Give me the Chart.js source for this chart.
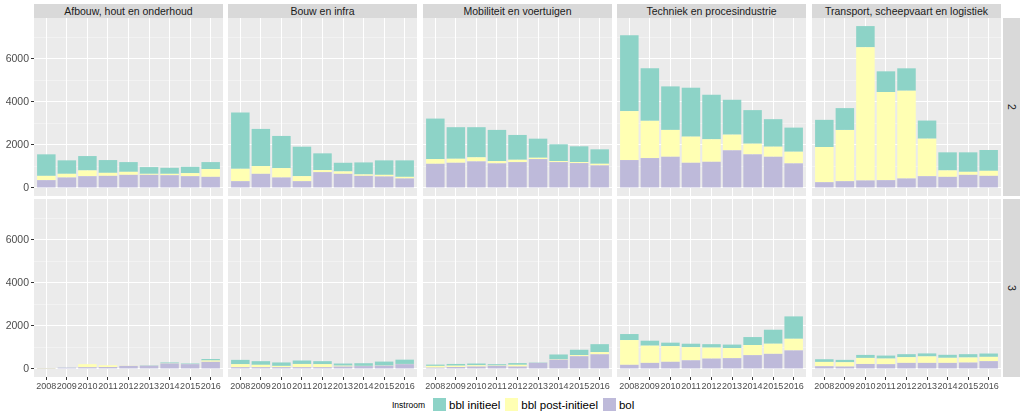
<!DOCTYPE html>
<html>
<head>
<meta charset="utf-8">
<script src="https://cdn.jsdelivr.net/npm/chart.js@4.4.1/dist/chart.umd.min.js"></script>
<style>
  body { margin: 0; background: #fff; font-family: "Liberation Sans", Arial, sans-serif; }
  #wrap { position: relative; width: 1024px; height: 420px; overflow: hidden; }
  .box { position: absolute; }
  .strip { position: absolute; background: #d9d9d9; color: #1a1a1a; font-size: 10.5px; text-align: center; line-height: 14px; white-space: nowrap; }
  .rstrip { position: absolute; background: #d9d9d9; color: #1a1a1a; font-size: 10.5px; }
  .rstrip span { position: absolute; left: 50%; top: 50%; transform: translate(-50%, -50%) rotate(90deg); }
  #legend { position: absolute; left: 392px; top: 398px; display: flex; align-items: center; font-size: 11.5px; color: #000; }
  #legend .title { font-size: 8.5px; margin-right: 8px; }
  #legend .key { width: 13px; height: 13px; margin-right: 3px; }
  #legend .lab { margin-right: 5px; }
</style>
</head>
<body>
<div id="wrap"></div>
<script>
const years = [2008, 2009, 2010, 2011, 2012, 2013, 2014, 2015, 2016];
const sectors = [
  "Afbouw, hout en onderhoud",
  "Bouw en infra",
  "Mobiliteit en voertuigen",
  "Techniek en procesindustrie",
  "Transport, scheepvaart en logistiek",
];
const levels = ["2", "3"];
const yTickLabels = [0, 2000, 4000, 6000];
const yMinorLines = [1000, 3000, 5000, 7000];

// niveau 2, one row per sector
const bol2 = [
  [360, 485, 546, 560, 607, 607, 590, 546, 514],
  [313, 654, 485, 313, 733, 654, 560, 532, 439],
  [1121, 1168, 1233, 1140, 1200, 1340, 1200, 1153, 1046],
  [1294, 1387, 1448, 1168, 1214, 1747, 1560, 1448, 1140],
  [266, 313, 346, 360, 439, 546, 514, 607, 560],
];
const post2 = [
  [200, 170, 266, 140, 140, 47, 64, 140, 359],
  [574, 359, 435, 233, 94, 112, 66, 75, 75],
  [219, 186, 187, 107, 108, 61, 47, 47, 75],
  [2274, 1728, 1247, 1214, 1046, 728, 495, 467, 541],
  [1635, 2382, 6192, 4095, 4077, 1742, 298, 140, 234],
];
const init2 = [
  [1000, 626, 668, 594, 453, 313, 280, 294, 327],
  [2616, 1728, 1494, 1369, 779, 402, 558, 673, 766],
  [1882, 1467, 1401, 1448, 1153, 887, 780, 733, 672],
  [3530, 2442, 2022, 2274, 2069, 1621, 1560, 1279, 1121],
  [1261, 1013, 981, 962, 1041, 841, 841, 906, 967],
];

// niveau 3
const bol3 = [
  [5, 60, 80, 90, 140, 150, 250, 220, 330],
  [80, 80, 80, 80, 80, 110, 130, 150, 220],
  [60, 90, 110, 140, 110, 280, 430, 590, 680],
  [190, 280, 330, 400, 480, 500, 640, 700, 860],
  [125, 110, 230, 220, 280, 280, 280, 295, 360],
];
const post3 = [
  [25, 0, 140, 80, 10, 5, 10, 0, 60],
  [140, 110, 60, 150, 140, 40, 10, 10, 10],
  [80, 60, 60, 20, 80, 0, 20, 50, 100],
  [1150, 800, 730, 610, 510, 470, 470, 470, 540],
  [200, 200, 280, 260, 265, 300, 235, 235, 200],
];
const init3 = [
  [0, 5, 0, 0, 0, 15, 40, 30, 70],
  [200, 170, 160, 160, 140, 100, 125, 180, 200],
  [60, 80, 80, 60, 80, 15, 220, 250, 370],
  [280, 230, 160, 160, 160, 160, 370, 650, 1040],
  [125, 110, 140, 140, 140, 140, 140, 155, 155],
];

const bol = [bol2, bol3];
const post = [post2, post3];
const init = [init2, init3];

const colors = { init: "#8dd3c7", post: "#ffffb3", bol: "#bebada" };
const font = "'Liberation Sans', Arial, sans-serif";

// shared y range, ggplot style 5% expansion
let peak = 0;
for (let r = 0; r < 2; r++)
  for (let s = 0; s < sectors.length; s++)
    years.forEach((y, i) => { peak = Math.max(peak, bol[r][s][i] + post[r][s][i] + init[r][s][i]); });
const yMin = -peak * 0.05, yMax = peak * 1.05;

// layout
const colLeft = [34, 228, 423, 617, 812];
const panelW = 189, panelH = 178;
const rowTop = [18, 199];
const xAxisH = 16;

const wrap = document.getElementById("wrap");

const panelBg = {
  id: "panelBg",
  beforeDraw(chart) {
    const { ctx, chartArea: a } = chart;
    ctx.save();
    ctx.fillStyle = "#ebebeb";
    ctx.fillRect(a.left, a.top, a.right - a.left, a.bottom - a.top);
    ctx.restore();
  },
};

// fixed axis sizes, no label overflow padding so every panel lines up
function fixSize(sc, w, h) {
  if (w !== null) sc.width = w;
  if (h !== null) sc.height = h;
  sc.paddingTop = sc.paddingBottom = sc.paddingLeft = sc.paddingRight = 0;
}

function makePanel(r, c) {
  const first = c === 0, bottom = r === 1;
  const box = document.createElement("div");
  box.className = "box";
  box.style.left = (first ? 0 : colLeft[c]) + "px";
  box.style.top = rowTop[r] + "px";
  box.style.width = (first ? colLeft[0] + panelW : panelW) + "px";
  box.style.height = (panelH + (bottom ? xAxisH : 0)) + "px";
  const canvas = document.createElement("canvas");
  box.appendChild(canvas);
  wrap.appendChild(box);

  const isMajor = (v) => yTickLabels.includes(v);

  new Chart(canvas, {
    type: "bar",
    data: {
      labels: years,
      datasets: [
        { label: "bol", data: bol[r][c], backgroundColor: colors.bol },
        { label: "bbl post-initieel", data: post[r][c], backgroundColor: colors.post },
        { label: "bbl initieel", data: init[r][c], backgroundColor: colors.init },
      ],
    },
    options: {
      responsive: true,
      maintainAspectRatio: false,
      animation: false,
      layout: { padding: 0, autoPadding: false },
      datasets: { bar: { categoryPercentage: 1, barPercentage: 0.9, borderWidth: 0 } },
      plugins: { legend: { display: false }, tooltip: { enabled: false } },
      scales: {
        x: {
          type: "linear",
          stacked: true,
          offset: false,
          min: years[0] - 0.6,
          max: years[years.length - 1] + 0.6,
          afterBuildTicks: (sc) => { sc.ticks = years.map((v) => ({ value: v })); },
          afterFit: (sc) => fixSize(sc, null, bottom ? xAxisH : 0),
          grid: { offset: false, color: "#ffffff", lineWidth: 1, drawTicks: bottom, tickLength: 3, tickColor: "#333333" },
          border: { display: false },
          ticks: {
            display: bottom, autoSkip: false, maxRotation: 0, padding: 1,
            color: "#4d4d4d", font: { size: 9, family: font },
            callback: (v) => String(v),
          },
        },
        y: {
          stacked: true,
          min: yMin,
          max: yMax,
          afterBuildTicks: (sc) => {
            sc.ticks = yTickLabels.concat(yMinorLines).sort((a, b) => a - b).map((v) => ({ value: v }));
          },
          afterFit: (sc) => fixSize(sc, first ? colLeft[0] : 0, null),
          grid: {
            color: (ctx) => (isMajor(ctx.tick.value) ? "#ffffff" : "rgba(255,255,255,0.6)"),
            lineWidth: (ctx) => (isMajor(ctx.tick.value) ? 1 : 0.6),
            drawTicks: first,
            tickLength: 3,
            tickColor: (ctx) => (isMajor(ctx.tick.value) ? "#333333" : "rgba(0,0,0,0)"),
          },
          border: { display: false },
          ticks: {
            display: first, padding: 2,
            color: "#4d4d4d", font: { size: 10.5, family: font },
            callback: (v) => (isMajor(v) ? String(v) : ""),
          },
        },
      },
    },
    plugins: [panelBg],
  });
}

for (let r = 0; r < levels.length; r++)
  for (let c = 0; c < sectors.length; c++) makePanel(r, c);

// facet strips
sectors.forEach((name, c) => {
  const s = document.createElement("div");
  s.className = "strip";
  s.style.left = colLeft[c] + "px";
  s.style.top = "4px";
  s.style.width = panelW + "px";
  s.style.height = "14px";
  s.textContent = name;
  wrap.appendChild(s);
});
levels.forEach((lv, r) => {
  const s = document.createElement("div");
  s.className = "rstrip";
  s.style.left = "1003px";
  s.style.top = rowTop[r] + "px";
  s.style.width = "17px";
  s.style.height = panelH + "px";
  const t = document.createElement("span");
  t.textContent = lv;
  s.appendChild(t);
  wrap.appendChild(s);
});

// legend
const legend = document.createElement("div");
legend.id = "legend";
legend.innerHTML = '<span class="title">Instroom</span>' +
  [["bbl initieel", colors.init], ["bbl post-initieel", colors.post], ["bol", colors.bol]]
    .map(([t, col]) => `<span class="key" style="background:${col}"></span><span class="lab">${t}</span>`)
    .join("");
wrap.appendChild(legend);
</script>
</body>
</html>
